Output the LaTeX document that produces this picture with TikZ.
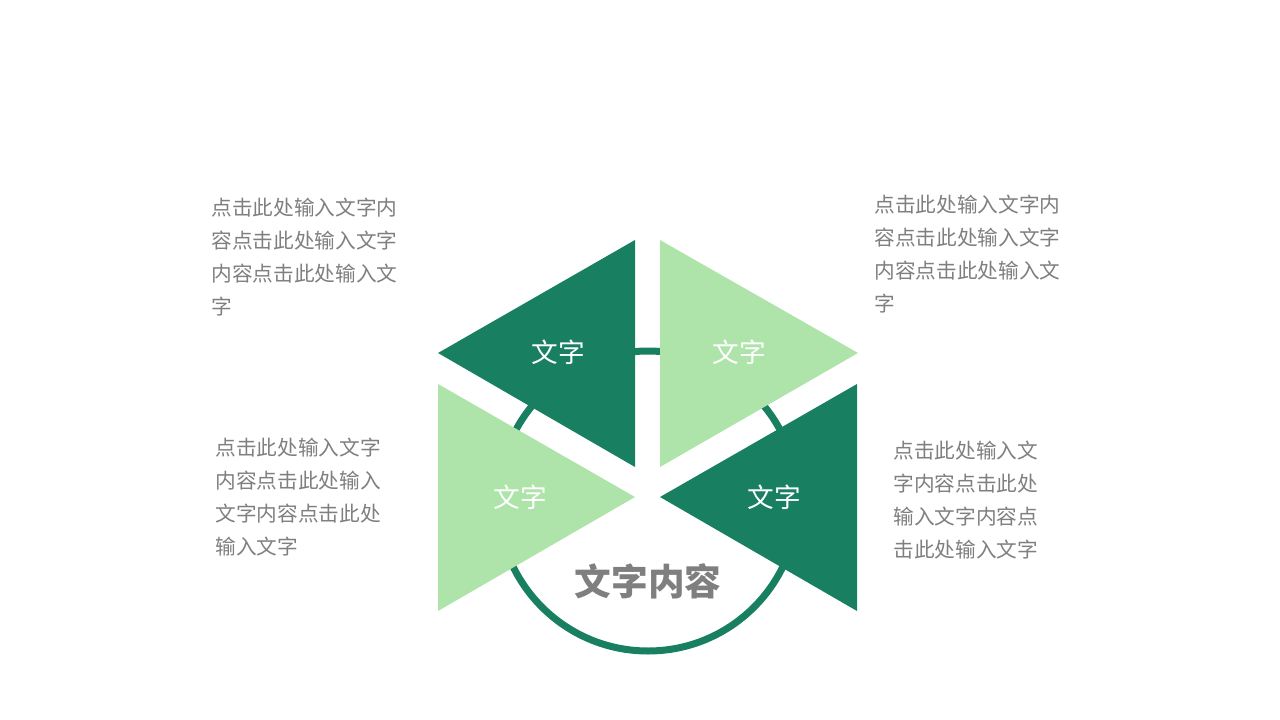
\documentclass[tikz,border=0pt]{standalone}
\usepackage{fontspec}
\newfontfamily\cjk{Noto Sans CJK SC}
\definecolor{darkgreen}{HTML}{187F61}
\definecolor{lightgreen}{HTML}{AEE4AA}
\definecolor{textgray}{HTML}{7F7F7F}
\tikzset{every picture/.style={line width=0.75pt}}
\tikzset{
  tri label/.style={inner sep=0.75pt, text=white, font=\cjk\fontsize{20}{24}\selectfont},
  para/.style={anchor=north west, inner sep=0pt, align=left, text=textgray, font=\cjk\fontsize{15.5}{24.75}\selectfont}
}

\begin{document}
\begin{tikzpicture}[x=0.75pt,y=0.75pt,yscale=-1,xscale=1]
\useasboundingbox (0,0) rectangle (1280,720);

%Shape: Circle [id:ring]
\draw [color=darkgreen, line width=5.25pt] (648,501) circle (150);

%Shape: Triangle [id:tri1]
\fill [darkgreen] (635,240) -- (635,467) -- (438,353) -- cycle ;
%Shape: Triangle [id:tri2]
\fill [lightgreen] (660,240) -- (660,467) -- (858,353) -- cycle ;
%Shape: Triangle [id:tri3]
\fill [lightgreen] (438,384) -- (438,611) -- (635,497) -- cycle ;
%Shape: Triangle [id:tri4]
\fill [darkgreen] (857,384) -- (857,611) -- (660,497) -- cycle ;

% Text Node
\draw (558,352) node [tri label] (lab1) {文字};
% Text Node
\draw (739,352) node [tri label] (lab2) {文字};
% Text Node
\draw (520,497) node [tri label] (lab3) {文字};
% Text Node
\draw (774,497) node [tri label] (lab4) {文字};
% Text Node
\draw (648,581) node [inner sep=0.75pt, text=textgray, font=\cjk\bfseries\fontsize{27.5}{30}\selectfont] (hub) {文字内容};

% Text Node
\draw (211,197) node [para] (desc1) {点击此处输入文字内\\容点击此处输入文字\\内容点击此处输入文\\字};
% Text Node
\draw (874,194) node [para] (desc2) {点击此处输入文字内\\容点击此处输入文字\\内容点击此处输入文\\字};
% Text Node
\draw (215,437) node [para] (desc3) {点击此处输入文字\\内容点击此处输入\\文字内容点击此处\\输入文字};
% Text Node
\draw (893,440) node [para] (desc4) {点击此处输入文\\字内容点击此处\\输入文字内容点\\击此处输入文字};

\end{tikzpicture}
\end{document}
